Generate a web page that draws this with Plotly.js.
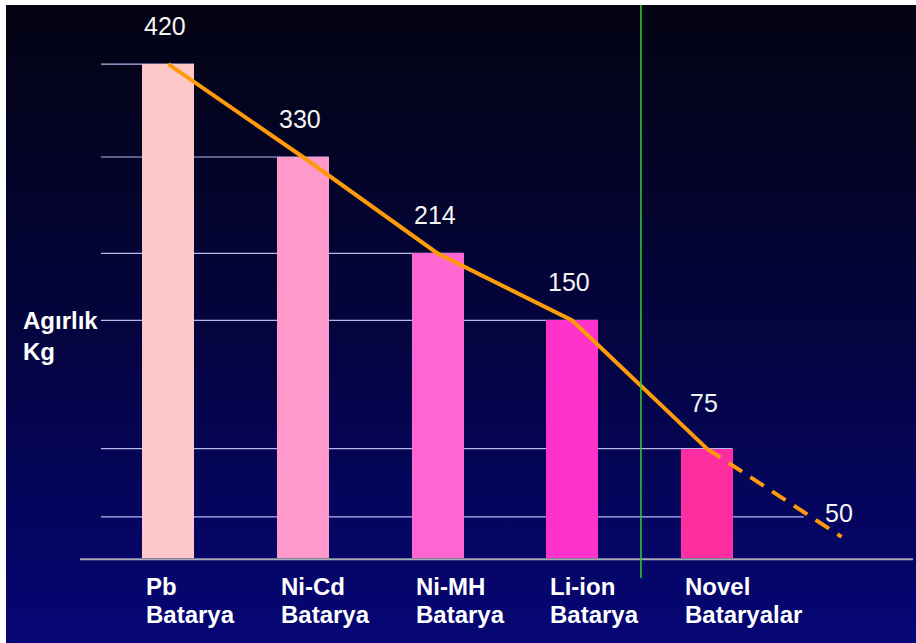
<!DOCTYPE html>
<html>
<head>
<meta charset="utf-8">
<script src="https://cdn.plot.ly/plotly-3.0.1.min.js"></script>
<style>html,body{margin:0;padding:0;background:#fff;}#chart{width:916px;height:643px;}</style>
</head>
<body>
<div id="chart"></div>
<script>
// ---- data ----
const labelLine1 = ["Pb", "Ni-Cd", "Ni-MH", "Li-ion", "Novel"];
const labelLine2 = ["Batarya", "Batarya", "Batarya", "Batarya", "Bataryalar"];
const weightKg = [420, 330, 214, 150, 75];          // printed values
const drawnHeight = [420, 341, 259, 202, 93];       // bar heights as drawn (not to scale of values)
const projectedWeight = 50;                          // projected novel battery value
const projectedGridHeight = 35;                      // drawn height of the "50" guide line
const projectedLineEnd = 18;                         // drawn end of dashed trend
const barColors = ["#FFC8C8", "#FF99CC", "#FF66D2", "#FF33CC", "#FF2EA0"];

// ---- helpers ----
const W = 916, H = 643;
const py = px => 1 - px / H;     // pixel row -> paper y
const px2 = px => px / W;        // pixel col -> paper x
const idx = weightKg.map((_, i) => i);
const projIdx = weightKg.length;

const traces = [
  {
    type: "bar", x: idx, y: drawnHeight, width: 0.386,
    marker: {color: barColors, line: {width: 0}},
    hoverinfo: "skip", showlegend: false
  },
  {
    type: "scatter", mode: "lines", x: idx, y: drawnHeight,
    line: {color: "#FF9A0A", width: 4}, hoverinfo: "skip", showlegend: false
  },
  {
    type: "scatter", mode: "lines",
    x: [idx[idx.length - 1], projIdx],
    y: [drawnHeight[drawnHeight.length - 1], projectedLineEnd],
    line: {color: "#FF9A0A", width: 4, dash: "16px,10px"}, hoverinfo: "skip", showlegend: false
  }
];

// ---- background gradient (SVG image) ----
const gradSvg = '<svg xmlns="http://www.w3.org/2000/svg" width="100" height="100" preserveAspectRatio="none">' +
  '<defs><linearGradient id="g" x1="0" y1="0" x2="0" y2="1">' +
  '<stop offset="0" stop-color="rgb(3,3,18)"/>' +
  '<stop offset="0.5" stop-color="rgb(4,4,62)"/>' +
  '<stop offset="1" stop-color="rgb(6,6,118)"/>' +
  '</linearGradient></defs><rect width="100" height="100" fill="url(#g)"/></svg>';
const gradUri = "data:image/svg+xml;charset=utf-8," + encodeURIComponent(gradSvg);

const shapes = [];
// horizontal guide lines at each bar height
drawnHeight.forEach((h, i) => {
  shapes.push({type: "line", xref: "x", yref: "y", layer: "below",
    x0: -0.5, x1: i + 0.19, y0: h, y1: h, line: {color: "#B8B8EE", width: 1.2}});
});
shapes.push({type: "line", xref: "x", yref: "y", layer: "below",
  x0: -0.5, x1: projIdx - 0.28, y0: projectedGridHeight, y1: projectedGridHeight,
  line: {color: "#B8B8EE", width: 1.2}});
// baseline
shapes.push({type: "line", xref: "paper", yref: "y", layer: "below",
  x0: px2(80), x1: px2(913), y0: -1, y1: -1, line: {color: "#A8A8B4", width: 2}});
// green divider between existing and novel batteries
shapes.push({type: "line", xref: "x", yref: "paper", layer: "above",
  x0: 3.51, x1: 3.51, y0: py(578), y1: py(5), line: {color: "#33CC33", width: 1.5}});

// ---- annotations ----
const annotations = [];
const fam = "Liberation Sans, Arial, sans-serif";
const valFont = {family: fam, size: 25, color: "#F4F4F4"};
const catFont = {family: fam, size: 24, color: "#FFFFFF"};
weightKg.forEach((v, i) => {
  annotations.push({x: i, y: drawnHeight[i], xref: "x", yref: "y", text: String(v),
    showarrow: false, yanchor: "bottom", yshift: i === 4 ? 30 : 22, xshift: -3, font: valFont});
});
annotations.push({x: projIdx, y: projectedLineEnd, xref: "x", yref: "y", text: String(projectedWeight),
  showarrow: false, yanchor: "bottom", yshift: 8, xshift: -3, font: valFont});
labelLine1.forEach((t, i) => {
  annotations.push({x: i, y: py(586), xref: "x", yref: "paper", text: "<b>" + t + "</b>",
    showarrow: false, xanchor: "left", yanchor: "middle", xshift: -24, font: catFont});
  annotations.push({x: i, y: py(614), xref: "x", yref: "paper", text: "<b>" + labelLine2[i] + "</b>",
    showarrow: false, xanchor: "left", yanchor: "middle", xshift: -24, font: catFont});
});
annotations.push({x: px2(21), y: py(321), xref: "paper", yref: "paper", text: "<b>Agırlık</b>",
  showarrow: false, xanchor: "left", yanchor: "middle", font: {family: fam, size: 24, color: "#FFFFFF"}});
annotations.push({x: px2(21), y: py(351), xref: "paper", yref: "paper", text: "<b>Kg</b>",
  showarrow: false, xanchor: "left", yanchor: "middle", font: {family: fam, size: 24, color: "#FFFFFF"}});

const layout = {
  width: W, height: H, autosize: false,
  margin: {l: 0, r: 0, t: 0, b: 0, pad: 0},
  paper_bgcolor: "#FFFFFF", plot_bgcolor: "rgba(0,0,0,0)",
  xaxis: {range: [-1.25, 5.553], visible: false, fixedrange: true},
  yaxis: {range: [-72.3, 474.5], visible: false, fixedrange: true},
  images: [{source: gradUri, xref: "paper", yref: "paper", x: px2(6), y: py(5),
    sizex: 1 - px2(6), sizey: py(5), xanchor: "left", yanchor: "top",
    sizing: "stretch", layer: "below"}],
  shapes: shapes, annotations: annotations, showlegend: false, bargap: 0
};

Plotly.newPlot("chart", traces, layout, {staticPlot: true, displayModeBar: false});
</script>
</body>
</html>
